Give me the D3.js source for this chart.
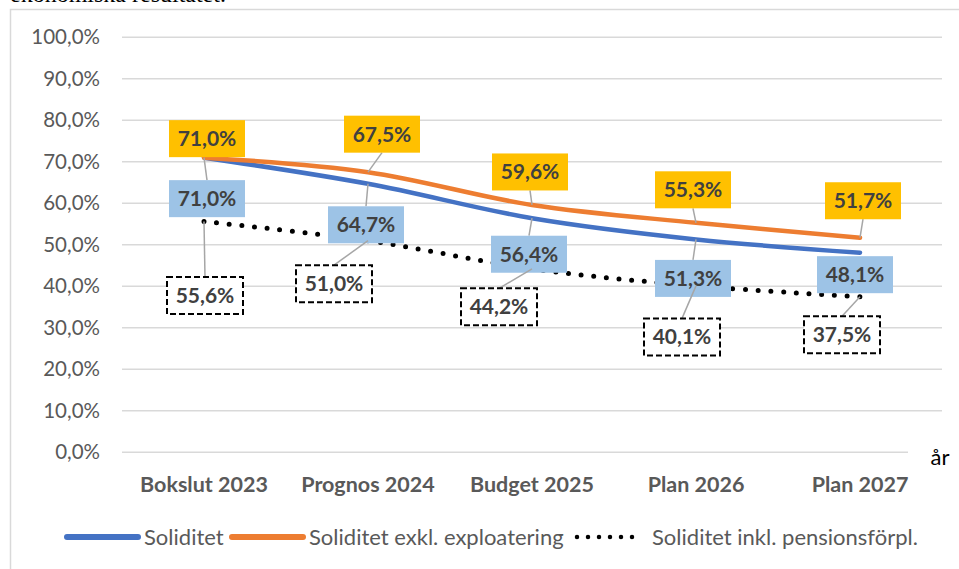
<!DOCTYPE html>
<html>
<head>
<meta charset="utf-8">
<script src="https://cdn.jsdelivr.net/npm/d3@7"></script>
<style>
  body { margin: 0; background: #fff; }
  svg { display: block; font-family: Lato, "Open Sans", sans-serif; }
</style>
</head>
<body>
<div id="chart"></div>
<script>
// Soliditet chart
const categories = ['Bokslut 2023', 'Prognos 2024', 'Budget 2025', 'Plan 2026', 'Plan 2027'];
const soliditet = [71.0, 64.7, 56.4, 51.3, 48.1];
const soliditetExkl = [71.0, 67.5, 59.6, 55.3, 51.7];
const soliditetInkl = [55.6, 51.0, 44.2, 40.1, 37.5];
const yTicks = [0, 10, 20, 30, 40, 50, 60, 70, 80, 90, 100];
const seriesNames = ['Soliditet', 'Soliditet exkl. exploatering', 'Soliditet inkl. pensionsförpl.'];

// label box offsets from data point (px)
const offsetsExkl = [[3, -19], [14, -38], [-2, -33], [-3, -33], [3, -37]];
const offsetsSol = [[3, 41], [-2, 41], [-3, 36], [-3, 39], [-5, 22]];
const offsetsInkl = [[1, 74], [-34, 43], [-33, 38], [-14, 51], [-18, 38]];

const width = 959, height = 569;
const fmt = v => v.toFixed(1).replace('.', ',') + '%';

const svg = d3.select('#chart').append('svg')
    .attr('width', width)
    .attr('height', height);

// text cut at the top (from surrounding document)
svg.append('text')
    .attr('x', 10)
    .attr('y', 2)
    .attr('font-family', '"Liberation Serif", serif')
    .attr('font-size', '24px')
    .attr('fill', '#000')
    .text('ekonomiska resultatet.');

// chart border
svg.append('path')
    .attr('d', 'M10.5,' + height + 'V9.5H' + width)
    .attr('fill', 'none')
    .attr('stroke', '#d9d9d9')
    .attr('stroke-width', 1.5);

const x = d3.scaleBand()
    .domain(categories)
    .range([122, 942]);
const y = d3.scaleLinear()
    .domain([0, 100])
    .range([452.3, 37.3]);
const cx = c => x(c) + x.bandwidth() / 2;

// gridlines
svg.append('g')
    .selectAll('line')
    .data(yTicks)
    .join('line')
    .attr('x1', 122)
    .attr('x2', d => d === 0 ? 908 : 942)
    .attr('y1', d => y(d))
    .attr('y2', d => y(d))
    .attr('stroke', '#d9d9d9')
    .attr('stroke-width', 1.5);

const yAxis = svg.append('g')
    .attr('transform', 'translate(100,0)')
    .call(d3.axisLeft(y).tickValues(yTicks).tickSize(0).tickPadding(0).tickFormat(fmt));
yAxis.select('.domain').remove();
yAxis.selectAll('text')
    .attr('fill', '#595959')
    .attr('font-size', '20.5px')
    .attr('font-family', 'Lato, sans-serif');

const xAxis = svg.append('g')
    .attr('transform', 'translate(0,452)')
    .call(d3.axisBottom(x).tickSize(0).tickPadding(0));
xAxis.select('.domain').remove();
xAxis.selectAll('text')
    .attr('dy', 0)
    .attr('y', 40)
    .attr('fill', '#595959')
    .attr('font-size', '21.5px')
    .attr('font-weight', 'bold')
    .attr('font-family', 'Lato, sans-serif');

svg.append('text')
    .attr('x', 940)
    .attr('y', 465)
    .attr('text-anchor', 'middle')
    .attr('font-size', '22px')
    .attr('fill', '#000')
    .text('år');

const line = d3.line()
    .x((d, i) => cx(categories[i]))
    .y(d => y(d))
    .curve(d3.curveCatmullRom.alpha(0.5));

svg.append('path')
    .attr('d', line(soliditetInkl))
    .attr('fill', 'none')
    .attr('stroke', '#000')
    .attr('stroke-width', 5)
    .attr('stroke-linecap', 'round')
    .attr('stroke-dasharray', '0 12.7');

svg.append('path')
    .attr('d', line(soliditet))
    .attr('fill', 'none')
    .attr('stroke', '#4472c4')
    .attr('stroke-width', 4.5)
    .attr('stroke-linecap', 'round');

svg.append('path')
    .attr('d', line(soliditetExkl))
    .attr('fill', 'none')
    .attr('stroke', '#ed7d31')
    .attr('stroke-width', 4.5)
    .attr('stroke-linecap', 'round');

// data labels
const boxW = 76, boxH = 37;
function drawLabels(values, offsets, fill, dashed) {
    const g = svg.append('g');
    values.forEach((v, i) => {
        const px = cx(categories[i]), py = y(v);
        const lx = px + offsets[i][0], ly = py + offsets[i][1];
        const top = ly - boxH / 2, bottom = ly + boxH / 2;
        let ey = null;
        if (py < top - 4) ey = top;
        else if (py > bottom + 4) ey = bottom;
        if (ey !== null) {
            g.append('line')
                .attr('x1', lx).attr('y1', ey)
                .attr('x2', px).attr('y2', py)
                .attr('stroke', '#a6a6a6')
                .attr('stroke-width', 1.5);
        }
        g.append('rect')
            .attr('x', lx - boxW / 2)
            .attr('y', top)
            .attr('width', boxW)
            .attr('height', boxH)
            .attr('fill', fill)
            .attr('stroke', dashed ? '#000' : 'none')
            .attr('stroke-width', 2)
            .attr('stroke-dasharray', dashed ? '6 3' : null);
        g.append('text')
            .attr('x', lx)
            .attr('y', ly)
            .attr('dy', '0.35em')
            .attr('text-anchor', 'middle')
            .attr('font-size', '21px')
            .attr('font-weight', 'bold')
            .attr('fill', '#404040')
            .text(fmt(v));
    });
}
drawLabels(soliditetExkl, offsetsExkl, '#ffc000', false);
drawLabels(soliditet, offsetsSol, '#9dc3e6', false);
drawLabels(soliditetInkl, offsetsInkl, '#fff', true);

// legend
const legend = svg.append('g').attr('transform', 'translate(0,537)');
const legendItems = [
    {name: seriesNames[0], color: '#4472c4', x: 67, tx: 144, dots: false},
    {name: seriesNames[1], color: '#ed7d31', x: 232, tx: 309, dots: false},
    {name: seriesNames[2], color: '#000', x: 577, tx: 652, dots: true}
];
legendItems.forEach(d => {
    legend.append('line')
        .attr('x1', d.x)
        .attr('x2', d.dots ? d.x + 66 : d.x + 71)
        .attr('stroke', d.color)
        .attr('stroke-width', d.dots ? 4.5 : 6)
        .attr('stroke-linecap', 'round')
        .attr('stroke-dasharray', d.dots ? '0 11' : null);
    legend.append('text')
        .attr('x', d.tx)
        .attr('dy', '0.35em')
        .attr('font-size', '22px')
        .attr('fill', '#595959')
        .text(d.name);
});
</script>
</body>
</html>
